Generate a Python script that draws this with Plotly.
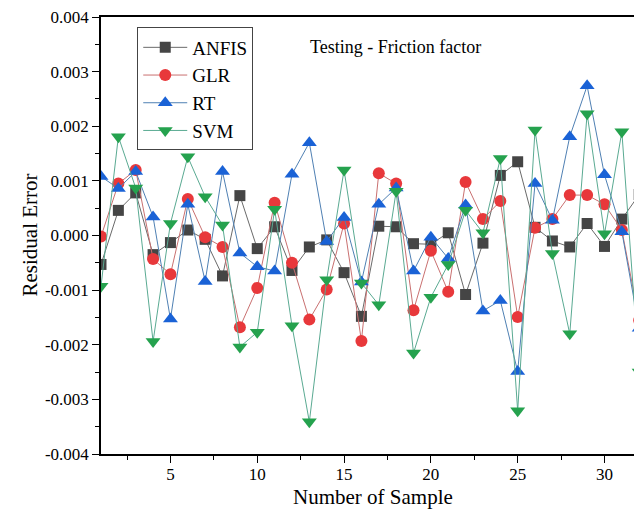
import plotly.graph_objects as go

samples = list(range(1, 33))

anfis = [-0.00053, 0.00046, 0.00078, -0.00035, -0.00013, 0.00010, -0.00007, -0.00074,
         0.00073, -0.00024, 0.00016, -0.00064, -0.00021, -0.00008, -0.00068, -0.00148,
         0.00017, 0.00016, -0.00015, -0.00016, 0.00005, -0.00108, -0.00014, 0.00110,
         0.00135, 0.00015, -0.00010, -0.00021, 0.00022, -0.00020, 0.00030, 0.00075]

glr = [-0.00002, 0.00095, 0.00120, -0.00043, -0.00071, 0.00067, -0.00003, -0.00021,
       -0.00168, -0.00096, 0.00060, -0.00050, -0.00154, -0.00099, 0.00022, -0.00193,
       0.00114, 0.00095, -0.00137, -0.00028, -0.00103, 0.00098, 0.00030, 0.00063,
       -0.00149, 0.00014, 0.00030, 0.00074, 0.00074, 0.00057, 0.00010, -0.00155]

rt = [0.00108, 0.00086, 0.00117, 0.00034, -0.00153, 0.00057, -0.00084, 0.00117,
      -0.00032, -0.00057, -0.00065, 0.00112, 0.00170, -0.00011, 0.00033, -0.00085,
      0.00057, 0.00087, -0.00065, -0.00003, -0.00042, 0.00056, -0.00138, -0.00119,
      -0.00249, 0.00095, 0.00028, 0.00181, 0.00274, 0.00111, 0.00007, -0.00170]

svm = [-0.00093, 0.00181, 0.00087, -0.00194, 0.00022, 0.00144, 0.00071, 0.00019,
       -0.00204, -0.00177, 0.00048, -0.00165, -0.00341, -0.00081, 0.00120, -0.00087,
       -0.00127, 0.00081, -0.00215, -0.00113, -0.00053, 0.00046, 0.00005, 0.00141,
       -0.00321, 0.00193, -0.00033, -0.00180, 0.00223, 0.00003, 0.00190, -0.00250]

y_tickvals = [-0.004, -0.003, -0.002, -0.001, 0.0, 0.001, 0.002, 0.003, 0.004]
y_ticktext = ["-0.004", "-0.003", "-0.002", "-0.001", "0.000", "0.001", "0.002", "0.003", "0.004"]
x_tickvals = [5, 10, 15, 20, 25, 30]
x_ticktext = ["5", "10", "15", "20", "25", "30"]

FONT = "Liberation Serif, Times New Roman, serif"

series = [
    ("ANFIS", anfis, "square", "#454545", "#6a6a6a", 11),
    ("GLR", glr, "circle", "#e8383b", "#c97070", 12),
    ("RT", rt, "triangle-up", "#1a62d6", "#4f80b3", 13),
    ("SVM", svm, "triangle-down", "#25a24e", "#5aaa92", 13),
]

fig = go.Figure()
for name, vals, sym, mcol, lcol, msize in series:
    fig.add_trace(go.Scatter(
        x=samples, y=vals, name=name, mode="lines+markers",
        line=dict(color=lcol, width=1),
        marker=dict(symbol=sym, color=mcol, size=msize, line=dict(width=0)),
        cliponaxis=True,
    ))

fig.update_layout(
    width=634, height=524,
    margin=dict(l=101, r=0, t=17, b=70),
    paper_bgcolor="white", plot_bgcolor="white",
    font=dict(family=FONT, size=17, color="black"),
    showlegend=True,
    legend=dict(
        x=0.068, y=0.976, xanchor="left", yanchor="top",
        bgcolor="white", bordercolor="#444", borderwidth=1,
        font=dict(family=FONT, size=19, color="black"),
        itemwidth=44, tracegroupgap=0,
    ),
    xaxis=dict(
        range=[1, 31.70], showgrid=False, zeroline=False,
        showline=True, linecolor="black", linewidth=1.5, mirror=True,
        tickvals=x_tickvals, ticktext=x_ticktext,
        ticks="outside", ticklen=7, tickwidth=1.2, tickcolor="black",
        ticklabelstandoff=-3,
        minor=dict(dtick=2.5, tick0=0, ticks="outside", ticklen=4, tickwidth=1.2, tickcolor="black"),
        tickfont=dict(family=FONT, size=17, color="black"),
    ),
    yaxis=dict(
        range=[-0.004, 0.004], showgrid=False, zeroline=False,
        showline=True, linecolor="black", linewidth=1.5,
        tickvals=y_tickvals, ticktext=y_ticktext,
        ticks="outside", ticklen=7, tickwidth=1.2, tickcolor="black",
        minor=dict(dtick=0.0005, tick0=0, ticks="outside", ticklen=4, tickwidth=1.2, tickcolor="black"),
        tickfont=dict(family=FONT, size=17, color="black"),
    ),
    annotations=[
        dict(text="Testing - Friction factor", xref="paper", yref="paper",
             x=0.388, y=0.931, xanchor="left", yanchor="middle", showarrow=False,
             font=dict(family=FONT, size=18, color="black")),
        dict(text="Number of Sample", xref="paper", yref="paper",
             x=0.51, y=0, yshift=-43, xanchor="center", yanchor="middle", showarrow=False,
             font=dict(family=FONT, size=21, color="black")),
        dict(text="Residual Error", xref="paper", yref="paper",
             x=0, xshift=-72, y=0.5, xanchor="center", yanchor="middle", showarrow=False,
             textangle=-90, font=dict(family=FONT, size=21, color="black")),
    ],
)

fig.write_html(
    "out.html",
    config={"displayModeBar": False},
    post_script="document.body.style.margin='0px';document.body.style.overflow='hidden';",
)
